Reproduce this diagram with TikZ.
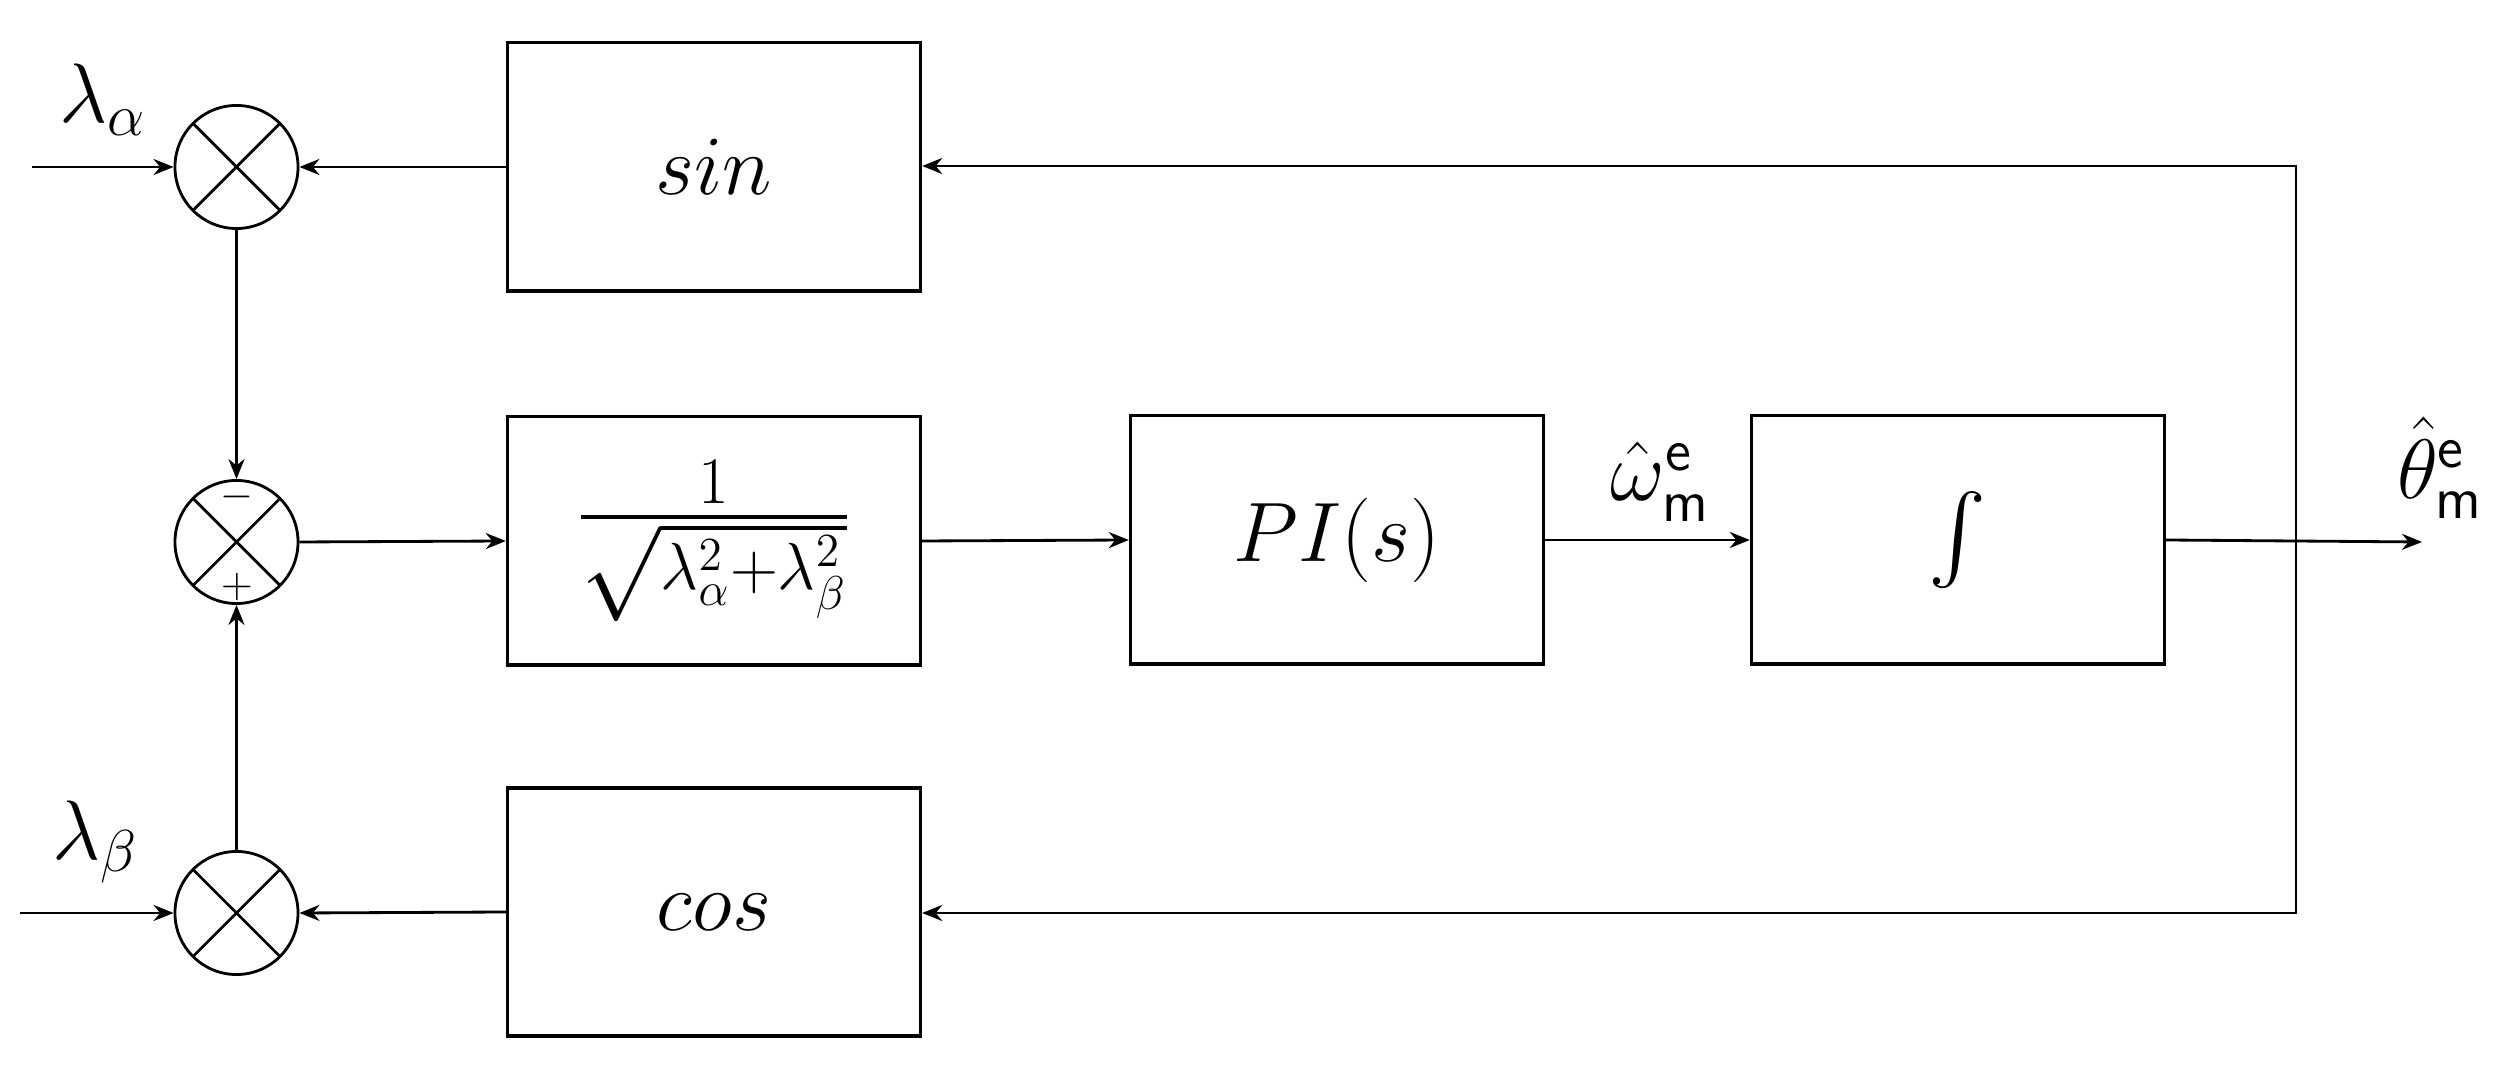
\RequirePackage{fix-cm}
\documentclass[tikz,border=0pt]{standalone}
\usepackage{exscale}
\usetikzlibrary{arrows.meta}
\begin{document}
\begin{tikzpicture}[x=0.01cm,y=-0.01cm,
  line width=0.8pt,
  >={Stealth[length=0.2cm,width=0.16cm]},
  big/.style={font=\fontsize{24}{29}\selectfont},
  blk/.style={draw, line width=0.9pt, minimum width=4.13cm, minimum height=2.48cm, inner sep=0pt, big},
  mult/.style={circle, draw, minimum size=1.23cm, inner sep=0pt,
    path picture={\draw (path picture bounding box.north west) -- (path picture bounding box.south east)
      (path picture bounding box.north east) -- (path picture bounding box.south west);}},
  lbl/.style={inner sep=0pt, big},
  sgn/.style={inner sep=0pt, font=\fontsize{12}{14}\selectfont}]
\useasboundingbox (0,0) rectangle (2506,1077);
% blocks
\node[blk] (sin) at (714,167) {$sin$};
\node[blk, font=\fontsize{27}{32}\selectfont] (frac) at (714,541) {$\frac{1}{\sqrt{\lambda_\alpha^2+\lambda_\beta^2}}$};
\node[blk] (pi) at (1337,540) {$PI(s)$};
\node[blk, font=\fontsize{27}{32}\selectfont] (int) at (1958,540) {$\int$};
\node[blk] (cos) at (714,912) {$cos$};
% multipliers
\node[mult] (m1) at (236.5,167) {};
\node[mult] (m2) at (236.5,542) {};
\node[mult] (m3) at (236.5,913) {};
\node[sgn] (minus) at (237,497) {$-$};
\node[sgn] (plus) at (237,587) {$+$};
% inputs/outputs
\coordinate (ina) at (32,167);
\coordinate (inb) at (20,913);
\coordinate (out) at (2422,542);
\coordinate (junc) at (2296,542);
\coordinate (tr) at (2296,166);
\coordinate (br) at (2296,913);
% labels
\node[lbl] (la) at (103,100) {$\lambda_\alpha$};
\node[lbl] (lb) at (95,842) {$\lambda_\beta$};
\node[lbl] (lw) at (1660,482) {$\hat{\omega}^{\mathsf{e}}_{\mathsf{m}}$};
\node[lbl] (lt) at (2440,468) {$\hat{\theta}^{\mathsf{e}}_{\mathsf{m}}$};
% connectors
\draw[->] (ina) -- (m1.west);
\draw[->] (sin.west) -- (m1.east);
\draw[->] (m1.south) -- (m2.north);
\draw[->] (m3.north) -- (m2.south);
\draw[->] (inb) -- (m3.west);
\draw[->] (cos.west) -- (m3.east);
\draw[->] (m2.east) -- (frac.west);
\draw[->] (frac.east) -- (pi.west);
\draw[->] (pi.east) -- (int.west);
\draw[->] (int.east) -- (out);
\draw[->] (junc) -- (tr) -- (sin.east |- tr);
\draw[->] (junc) -- (br) -- (cos.east |- br);
\end{tikzpicture}
\end{document}
